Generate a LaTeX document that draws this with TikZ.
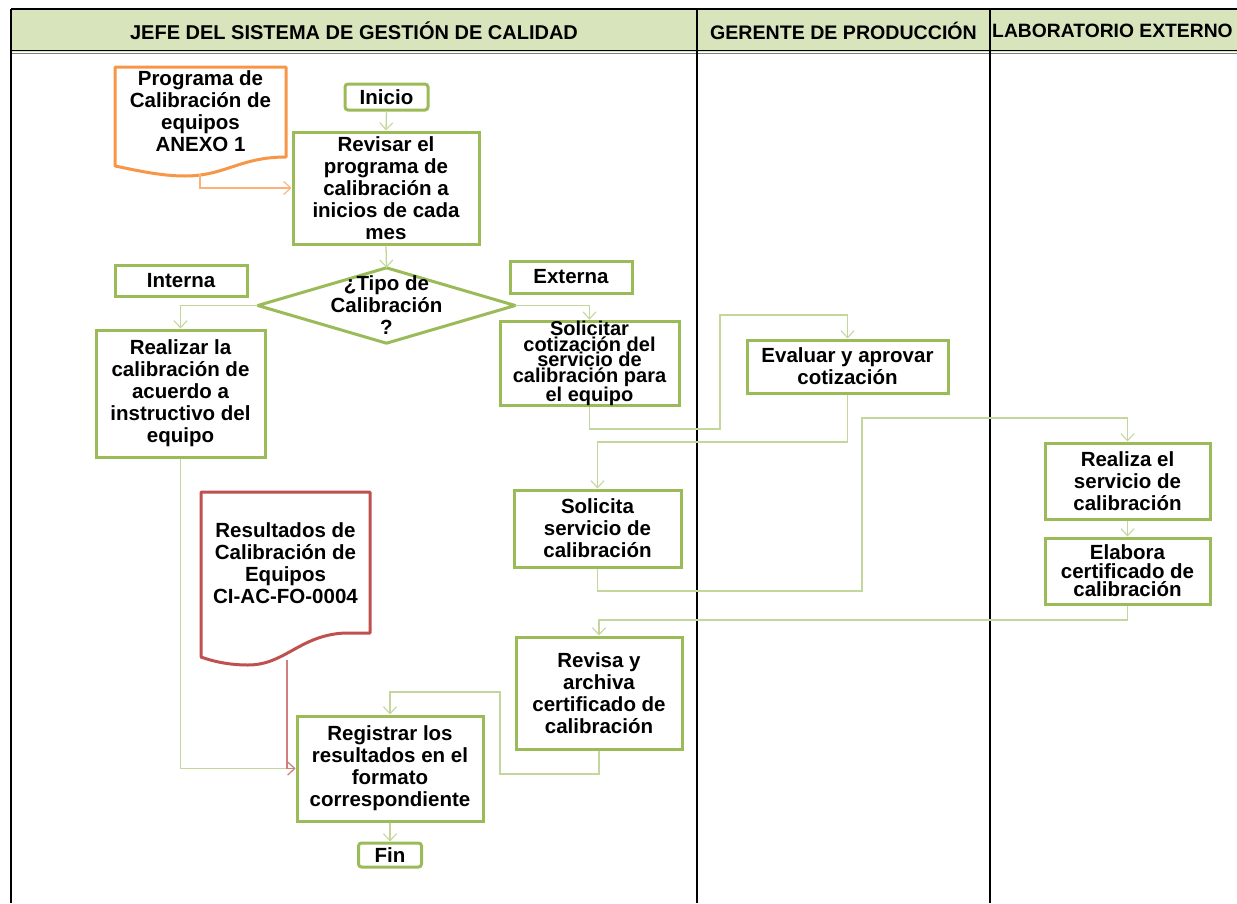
\documentclass[tikz,border=0pt]{standalone}
\usepackage{fontspec}
\setmainfont{Liberation Sans}
\usetikzlibrary{arrows.meta}
\definecolor{boxgreen}{HTML}{9BBB59}
\definecolor{linegreen}{HTML}{C3D69B}
\definecolor{headfill}{HTML}{D8E4BC}
\definecolor{docorange}{HTML}{F79646}
\definecolor{lineorange}{HTML}{FAB27A}
\definecolor{docred}{HTML}{C0504D}
\definecolor{linered}{HTML}{CF7F7D}
\tikzset{
  txt/.style={font=\bfseries\fontsize{20.5}{22}\selectfont, align=center, inner sep=0pt},
  procbox/.style={draw=boxgreen, line width=3pt, fill=white, inner sep=0pt, txt},
  termbox/.style={procbox, rounded corners=3pt},
  conn/.style={draw=linegreen, line width=1.3pt, -{Straight Barb[length=7pt,width=13pt,line width=1.1pt]}},
  lane/.style={draw=black, line width=2pt},
  headtxt/.style={font=\bfseries\fontsize{20}{22}\selectfont, inner sep=0pt}
}
\begin{document}
\begin{tikzpicture}[x=1pt,y=-1pt]
\useasboundingbox (0,0) rectangle (1237,903);
% header
\fill[headfill] (11,9) rectangle (1237,52);
\draw[lane] (11,9) -- (1237,9);
\draw[black, line width=1.6pt] (11,50.5) -- (1237,50.5);
\draw[gray, line width=0.8pt] (11,53.5) -- (1237,53.5);
\draw[lane] (11,9) -- (11,903);
\draw[lane] (697,9) -- (697,903);
\draw[lane] (990,9) -- (990,903);
\node[headtxt] (h1) at (354,31) {JEFE DEL SISTEMA DE GESTIÓN DE CALIDAD};
\node[headtxt, font=\bfseries\fontsize{19.6}{22}\selectfont] (h2) at (843.5,31) {GERENTE DE PRODUCCIÓN};
\node[headtxt, anchor=west, font=\bfseries\fontsize{19.3}{22}\selectfont] (h3) at (992,31) {LABORATORIO EXTERNO};

% documents
\draw[docorange, line width=3pt, fill=white, line join=round]
  (115,67) -- (286,67) -- (286,157) .. controls (240,157) and (225,176) .. (185,176)
  .. controls (160,176) and (135,170) .. (115,166) -- cycle;
\node[txt] (prog) at (200.5,111) {Programa de\\Calibración de\\equipos\\ANEXO 1};
\coordinate (progout) at (200,174);

\draw[docred, line width=3pt, fill=white, line join=round]
  (201,492) -- (370,492) -- (370,633) -- (345,633) .. controls (300,635) and (285,665) .. (248,665)
  .. controls (228,665) and (212,661) .. (201,657) -- cycle;
\node[txt] (res) at (285.5,563) {Resultados de\\Calibración de\\Equipos\\CI-AC-FO-0004};
\coordinate (resout) at (287,660);

% process nodes
\node[termbox, minimum width=83pt, minimum height=26pt] (inicio) at (386.5,97) {Inicio};
\node[procbox, minimum width=186pt, minimum height=112pt] (revisar) at (386,188) {Revisar el\\programa de\\calibración a\\inicios de cada\\mes};
\node[procbox, minimum width=132pt, minimum height=31pt] (interna) at (181,280.5) {Interna};
\node[procbox, minimum width=122pt, minimum height=32pt] (externa) at (571,277) {Externa};

\node[minimum width=257pt, minimum height=75pt, inner sep=0pt] (tipo) at (386.5,305.5) {};
\draw[boxgreen, line width=3pt, fill=white, line join=round] (tipo.west) -- (tipo.north) -- (tipo.east) -- (tipo.south) -- cycle;
\node[txt] (tipotxt) at (386.5,305) {¿Tipo de\\Calibración\\?};

\node[procbox, minimum width=169pt, minimum height=127pt] (realizar) at (180.5,393.5) {Realizar la\\calibración de\\acuerdo a\\instructivo del\\equipo};
\node[procbox, minimum width=179pt, minimum height=81pt, font=\bfseries\fontsize{20}{15.5}\selectfont] (solicitar) at (589.5,363.5) {Solicitar\\cotización del\\servicio de\\calibración para\\el equipo};
\node[procbox, minimum width=201pt, minimum height=53pt] (evaluar) at (847.5,366.5) {Evaluar y aprovar\\cotización};
\node[procbox, minimum width=167pt, minimum height=77pt] (solicita) at (597.5,528.5) {Solicita\\servicio de\\calibración};
\node[procbox, minimum width=165pt, minimum height=76pt] (realiza) at (1127.5,481) {Realiza el\\servicio de\\calibración};
\node[procbox, minimum width=165pt, minimum height=66pt, font=\bfseries\fontsize{20.5}{18.5}\selectfont] (elabora) at (1127.5,571) {Elabora\\certificado de\\calibración};
\node[procbox, minimum width=166pt, minimum height=112pt] (revisa) at (599,693) {Revisa y\\archiva\\certificado de\\calibración};
\node[procbox, minimum width=186pt, minimum height=105pt] (registrar) at (390,768.5) {Registrar los\\resultados en el\\formato\\correspondiente};
\node[termbox, minimum width=63pt, minimum height=24pt] (fin) at (390,855) {Fin};

% connectors
\draw[conn] (inicio.south) -- (revisar.north);
\draw[conn, draw=lineorange] (progout) |- (revisar.west);
\draw[conn] (revisar.south) -- (tipo.north);
\draw[conn] (tipo.west) -| (realizar.north);
\draw[conn] (tipo.east) -| (solicitar.north);
\draw[conn] (solicitar.south) |- (720,429) |- (847.5,315) -- (evaluar.north);
\draw[conn] (evaluar.south) |- (597.5,442) -- (solicita.north);
\draw[conn] (solicita.south) |- (862,591) |- (1127.5,418) -- (realiza.north);
\draw[conn] (realiza.south) -- (elabora.north);
\draw[conn] (elabora.south) |- (599,620) -- (revisa.north);
\draw[conn] (revisa.south) |- (500,774) |- (390,692) -- (registrar.north);
\draw[conn] (realizar.south) |- (registrar.west);
\draw[conn, draw=linered] (resout) |- (registrar.west);
\draw[conn] (registrar.south) -- (fin.north);
\end{tikzpicture}
\end{document}
